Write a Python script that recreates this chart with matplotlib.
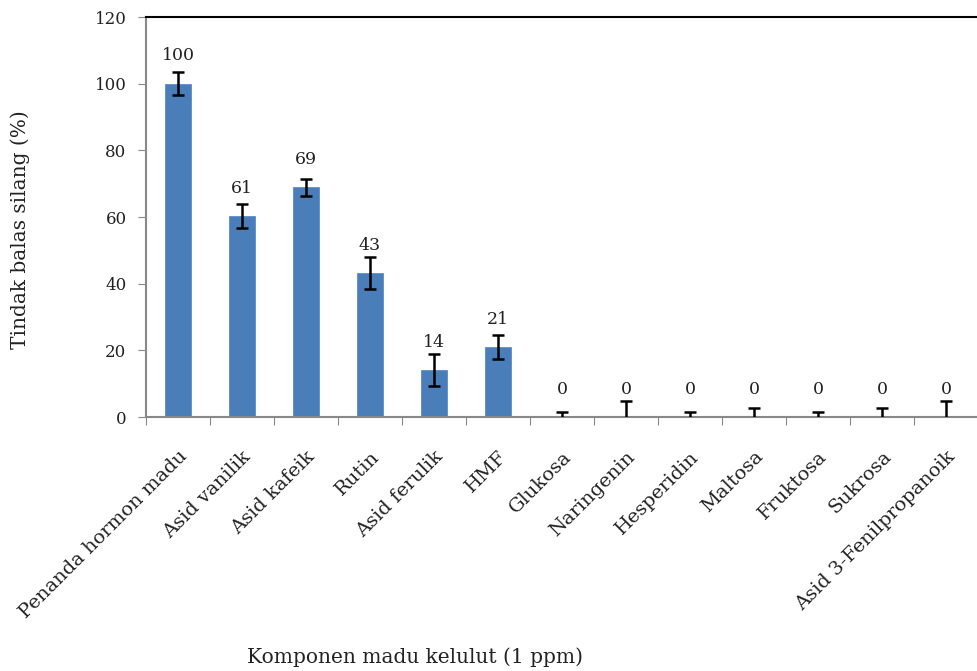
import numpy as np
import matplotlib.pyplot as plt

# Data
categories = ["Penanda hormon madu", "Asid vanilik", "Asid kafeik", "Rutin",
              "Asid ferulik", "HMF", "Glukosa", "Naringenin", "Hesperidin",
              "Maltosa", "Fruktosa", "Sukrosa", "Asid 3-Fenilpropanoik"]
values = [100, 60.3, 68.9, 43.1, 14, 21, 0, 0, 0, 0, 0, 0, 0]
errors = [3.5, 3.7, 2.6, 4.8, 4.8, 3.7, 1.6, 4.9, 1.6, 2.8, 1.6, 2.8, 4.9]
labels = ["100", "61", "69", "43", "14", "21", "0", "0", "0", "0", "0", "0", "0"]

plt.rcParams["font.family"] = ["DejaVu Serif"]

fig = plt.figure(figsize=(9.78, 6.71), dpi=100)
ax = fig.add_axes([146 / 978, 1 - 417 / 671, 1 - 146 / 978, 400 / 671])

x = np.arange(len(categories))
ax.bar(x, values, width=0.4, color="#4a7ebb", edgecolor="#5b8cc8", linewidth=0.6, zorder=2)
ax.errorbar(x, values, yerr=errors, fmt="none", ecolor="black", elinewidth=1.8,
            capsize=4.5, capthick=1.8, zorder=3)

for xi, v, lab in zip(x, values, labels):
    ax.annotate(lab, (xi, v), xytext=(0, 20), textcoords="offset points",
                ha="center", va="center", fontsize=12.5, color="#222222")

ax.set_xlim(-0.5, len(categories) - 0.5)
ax.set_ylim(0, 120)
ax.set_yticks(np.arange(0, 121, 20))
ax.tick_params(axis="y", direction="out", length=6, color="#888888", labelsize=12,
               labelcolor="#222222", pad=8)

# x ticks at category boundaries, labels at category centres
ax.set_xticks(np.arange(-0.5, len(categories), 1.0))
ax.set_xticklabels([])
ax.set_xticks(x, minor=True)
ax.set_xticklabels(categories, minor=True, rotation=45, ha="right",
                   rotation_mode="anchor", fontsize=14, color="#222222")
ax.tick_params(axis="x", which="major", direction="out", length=6, color="#888888")
ax.tick_params(axis="x", which="minor", length=0, pad=22)

for side in ["left", "bottom"]:
    ax.spines[side].set_color("#888888")
    ax.spines[side].set_linewidth(1.5)
ax.spines["top"].set_color("black")
ax.spines["top"].set_linewidth(1.5)
ax.spines["right"].set_visible(False)

fig.text(20 / 978, 1 - 230 / 671, "Tindak balas silang (%)", rotation=90,
         ha="center", va="center", fontsize=14.5, color="#222222")
fig.text(415 / 978, 1 - 657 / 671, "Komponen madu kelulut (1 ppm)",
         ha="center", va="center", fontsize=14.5, color="#222222")

fig.savefig("out.png", dpi=100)
